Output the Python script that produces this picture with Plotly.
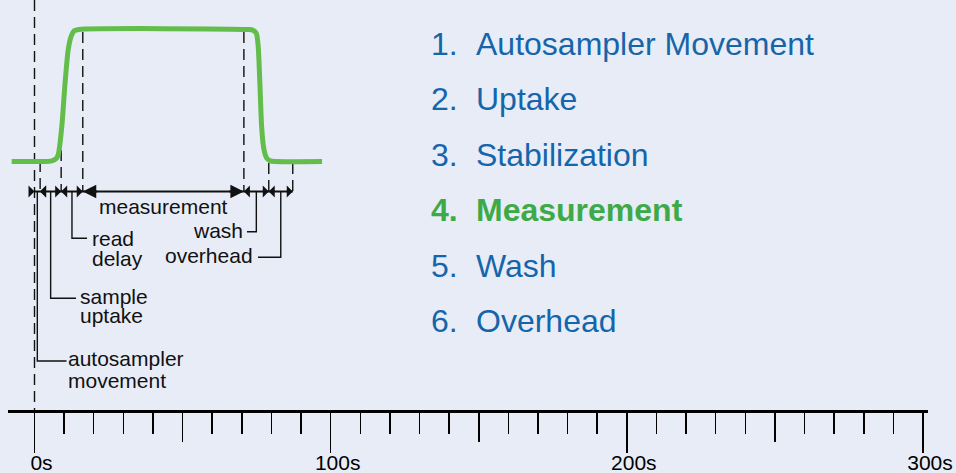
import plotly.graph_objects as go

# ---------------- data ----------------
phase_numbers = ["1.", "2.", "3.", "4.", "5.", "6."]
phase_names = ["Autosampler Movement", "Uptake", "Stabilization",
               "Measurement", "Wash", "Overhead"]
highlight_phase = 3  # "Measurement"

# phase boundaries along the time axis (seconds)
boundaries_s = [0.0, 1.9, 9.0, 16.3, 70.7, 79.1, 87.2]
segment_labels = [["autosampler", "movement"], ["sample", "uptake"],
                  ["read", "delay"], ["measurement"], ["wash"], ["overhead"]]

# signal trace (time in s, relative signal 0..1)
signal_t = [-7.7, 3.5, 5.8, 7.2, 8.0, 9.2, 10.3, 11.4, 12.4, 13.4, 15.0,
            72.0, 73.8, 74.9, 75.5, 76.1, 76.7, 77.4, 78.3, 79.6, 81.5, 97.1]
signal_v = [0, 0, 0.005, 0.02, 0.05, 0.26, 0.59, 0.85, 0.95, 0.99, 1.0,
            1.0, 0.995, 0.97, 0.88, 0.59, 0.26, 0.10, 0.03, 0.005, 0, 0]

major_ticks = [0, 100, 200, 300]
major_labels = ["0s", "100s", "200s", "300s"]
medium_ticks = [50, 150, 250]
minor_step = 10

# ---------------- layout helpers ----------------
W, H = 956, 473
S0_PX, PX_PER_S = 34.5, 2.9617
BASE_PX, TOP_PX = 161.5, 29.5


def xs(px):
    return (px - S0_PX) / PX_PER_S


def ys(py):
    return (BASE_PX - py) / (BASE_PX - TOP_PX)


BG = "#E8ECF7"
FONT = "Liberation Sans, Arial, Helvetica, sans-serif"
BLUE = "#1565AB"
GREEN_TXT = "#3DAA47"
GREEN_LINE = "#62BD4A"
INK = "#111111"
AXIS_PY = 411
ARROW_PY = 191.5
LABEL_FS = 21
LIST_FS = 32

fig = go.Figure()

# boundary dashed lines
dash_tops_py = [0, 161, 150, 32, 32, 163, 163]
dash_bottoms_py = [410, ARROW_PY, ARROW_PY, ARROW_PY, ARROW_PY, ARROW_PY, ARROW_PY]
dx, dy = [], []
for b, t, bt in zip(boundaries_s, dash_tops_py, dash_bottoms_py):
    dx += [b, b, None]
    dy += [ys(t), ys(bt), None]
fig.add_trace(go.Scatter(x=dx, y=dy, mode="lines",
                         line=dict(color=INK, width=1.4, dash="11px,6px"),
                         hoverinfo="skip"))

# signal curve
fig.add_trace(go.Scatter(x=signal_t, y=signal_v, mode="lines",
                         line=dict(color=GREEN_LINE, width=5, shape="spline", smoothing=0.7),
                         hoverinfo="skip"))

# arrow row line
fig.add_trace(go.Scatter(x=[boundaries_s[0], boundaries_s[-1]], y=[ys(ARROW_PY)] * 2,
                         mode="lines", line=dict(color=INK, width=2), hoverinfo="skip"))

# leader lines (vertical from segment middle, horizontal to label)
mids = [(boundaries_s[i] + boundaries_s[i + 1]) / 2 for i in range(6)]
leaders = {0: (361, 66.5), 1: (298.3, 76), 2: (238.3, 87), 4: (231.7, 247), 5: (257.3, 258)}
lx, ly = [], []
for seg, (lpy, endpx) in leaders.items():
    lx += [mids[seg], mids[seg], xs(endpx), None]
    ly += [ys(ARROW_PY), ys(lpy), ys(lpy), None]
fig.add_trace(go.Scatter(x=lx, y=ly, mode="lines", line=dict(color=INK, width=1.4),
                         hoverinfo="skip"))

# invisible trace to keep the medium-tick axis alive
fig.add_trace(go.Scatter(x=medium_ticks, y=[ys(AXIS_PY)] * 3, xaxis="x2", mode="markers",
                         marker=dict(opacity=0), hoverinfo="skip"))

annotations = []
# arrowheads
for i in range(6):
    a, b = boundaries_s[i], boundaries_s[i + 1]
    width_px = (b - a) * PX_PER_S
    big = (i == highlight_phase)
    head = 2 if big else 1
    size = 1.35 if big else 1.0
    L = 16 if big else 7
    if width_px > 15:
        heads = [(a, +L), (b, -L)]  # inside, pointing outward
    else:
        heads = [(a, -L), (b, +L)]  # outside, pointing inward
    for xb, ax in heads:
        annotations.append(dict(x=xb, y=ys(ARROW_PY), ax=ax, ay=0, text="",
                                showarrow=True, arrowhead=head, arrowsize=size,
                                arrowwidth=2, arrowcolor=INK, xref="x", yref="y"))

# segment labels (pixel-placed text)
label_pos = [
    (67, "left", [358.7, 380.4]),
    (79, "left", [296.5, 315.7]),
    (91, "left", [238.7, 258.2]),
    (163.3, "center", [206.4]),
    (243.5, "right", [230.7]),
    (253.5, "right", [255.7]),
]
for lines, (px, anc, pys) in zip(segment_labels, label_pos):
    for txt, py in zip(lines, pys):
        xx = px - 1 if anc == "left" else (px + 1 if anc == "right" else px)
        annotations.append(dict(x=xx / W, y=1 - py / H, xref="paper", yref="paper",
                                text=txt, showarrow=False, xanchor=anc, yanchor="middle",
                                font=dict(family=FONT, size=LABEL_FS, color=INK)))

# phase list
for k, (num, name) in enumerate(zip(phase_numbers, phase_names)):
    cy = 43.6 + 55.5 * k
    hl = (k == highlight_phase)
    col = GREEN_TXT if hl else BLUE
    n_txt = f"<b>{num}</b>" if hl else num
    t_txt = f"<b>{name}</b>" if hl else name
    for txt, px in ((n_txt, 429), (t_txt, 473.5)):
        annotations.append(dict(x=px / W, y=1 - cy / H, xref="paper", yref="paper",
                                text=txt, showarrow=False, xanchor="left", yanchor="middle",
                                font=dict(family=FONT, size=LIST_FS, color=col)))

dom = [8 / W, 928 / W]
xr = [xs(8), xs(928)]
pos = 1 - AXIS_PY / H

fig.update_layout(
    width=W, height=H, margin=dict(l=0, r=0, t=0, b=0, autoexpand=False),
    paper_bgcolor=BG, plot_bgcolor=BG, showlegend=False, hovermode=False,
    annotations=annotations,
    xaxis=dict(domain=dom, range=xr, anchor="free", position=pos, automargin=False,
               showline=True, linewidth=3, linecolor="black",
               ticks="outside", tickmode="array", tickvals=major_ticks, ticktext=major_labels,
               ticklen=39.5, tickwidth=1.5, tickcolor="black",
               tickfont=dict(family=FONT, size=LABEL_FS, color="black"),
               ticklabelshift=7, ticklabelstandoff=-8,
               showgrid=False, zeroline=False, fixedrange=True,
               minor=dict(ticks="outside", tickmode="linear", tick0=0, dtick=minor_step,
                          ticklen=21, tickwidth=1.5, tickcolor="black", showgrid=False)),
    xaxis2=dict(domain=dom, range=xr, overlaying="x", anchor="free", position=pos,
                automargin=False,
                showline=False, ticks="outside", tickmode="array", tickvals=medium_ticks,
                ticklen=30, tickwidth=1.5, tickcolor="black", showticklabels=False,
                showgrid=False, zeroline=False, fixedrange=True),
    yaxis=dict(domain=[0, 1], range=[ys(H), ys(0)], visible=False, fixedrange=True,
               automargin=False),
)

fig.write_html(
    "out.html",
    config={"displayModeBar": False, "staticPlot": True},
    post_script=("document.documentElement.style.margin='0';"
                 "document.body.style.margin='0';document.body.style.padding='0';"
                 "document.body.style.overflow='hidden';"
                 "document.body.style.background='" + BG + "';"),
)
